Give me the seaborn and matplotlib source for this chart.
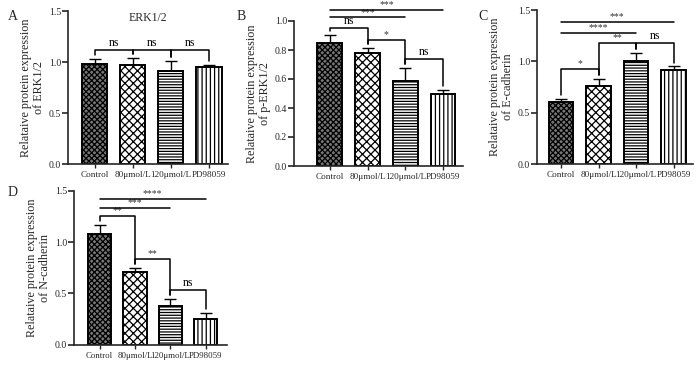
import matplotlib
matplotlib.use('Agg')
import matplotlib.pyplot as plt
import seaborn as sns
import pandas as pd
import numpy as np

groups = ['Control', '80μmol/L', '120μmol/L', 'PD98059']

erk_mean = [0.98, 0.97, 0.915, 0.948]
erk_sem = [0.05, 0.07, 0.095, 0.02]
perk_mean = [0.85, 0.782, 0.589, 0.499]
perk_sem = [0.053, 0.032, 0.087, 0.025]
ecad_mean = [0.60, 0.76, 1.006, 0.916]
ecad_sem = [0.036, 0.065, 0.078, 0.034]
ncad_mean = [1.075, 0.711, 0.38, 0.247]
ncad_sem = [0.088, 0.033, 0.065, 0.059]

# significance brackets: (i, j, height, label)
erk_brackets = [(0, 1, 1.12, 'ns'), (1, 2, 1.12, 'ns'), (2, 3, 1.12, 'ns')]
erk_lines = []
perk_brackets = [(0, 1, 0.952, 'ns'), (1, 2, 0.869, '*'), (2, 3, 0.738, 'ns')]
perk_lines = [(0, 2, 1.025, '***'), (0, 3, 1.078, '***')]
ecad_brackets = [(0, 1, 0.922, '*'), (1, 2, 1.18, '**'), (2, 3, 1.18, 'ns')]
ecad_lines = [(0, 2, 1.28, '****'), (0, 3, 1.38, '***')]
ncad_brackets = [(0, 1, 1.256, '**'), (1, 2, 0.837, '**'), (2, 3, 0.535, 'ns')]
ncad_lines = [(0, 2, 1.33, '***'), (0, 3, 1.416, '****')]

sns.set_theme(style='ticks')
plt.rcParams['font.family'] = ['Liberation Serif', 'DejaVu Serif']
plt.rcParams['hatch.linewidth'] = 0.9
plt.rcParams['axes.linewidth'] = 1.2

fig = plt.figure(figsize=(7.0, 3.67), dpi=100)

styles = [
    dict(face='#777777', hatch='xxxxxx'),
    dict(face='white', hatch='xxxx'),
    dict(face='white', hatch='------'),
    dict(face='white', hatch='||||'),
]

panels = [
    dict(rect=[68/700, (367-164)/367, 160/700, 153/367], mean=erk_mean, sem=erk_sem,
         ylim=1.5, yticks=[0.0, 0.5, 1.0, 1.5], xlim=(-0.7, 3.5), xfs=6.6,
         ylabel='Relataive protein expression\nof ERK1/2', br=erk_brackets, ln=erk_lines,
         title='ERK1/2', letter='A', lpos=(8, 17)),
    dict(rect=[294/700, (367-166)/367, 169/700, 145/367], mean=perk_mean, sem=perk_sem,
         ylim=1.0, yticks=[0.0, 0.2, 0.4, 0.6, 0.8, 1.0], xlim=(-0.95, 3.53), xfs=6.6,
         ylabel='Relataive protein expression\nof p-ERK1/2', br=perk_brackets, ln=perk_lines,
         title=None, letter='B', lpos=(237, 17)),
    dict(rect=[537/700, (367-164)/367, 156/700, 154/367], mean=ecad_mean, sem=ecad_sem,
         ylim=1.5, yticks=[0.0, 0.5, 1.0, 1.5], xlim=(-0.64, 3.52), xfs=6.6,
         ylabel='Relataive protein expression\nof E-cadherin', br=ecad_brackets, ln=ecad_lines,
         title=None, letter='C', lpos=(478, 17)),
    dict(rect=[74/700, (367-344.7)/367, 153/700, 154/367], mean=ncad_mean, sem=ncad_sem,
         ylim=1.5, yticks=[0.0, 0.5, 1.0, 1.5], xlim=(-0.72, 3.6), xfs=6.3,
         ylabel='Relataive protein expression\nof N-cadherin', br=ncad_brackets, ln=ncad_lines,
         title=None, letter='D', lpos=(8, 193)),
]

for p in panels:
    ax = fig.add_axes(p['rect'])
    df = pd.DataFrame({'group': groups, 'value': p['mean']})
    sns.barplot(data=df, x='group', y='value', ax=ax, errorbar=None, width=0.66,
                color='white', edgecolor='black', linewidth=1.4, zorder=2)
    for patch, st in zip(ax.patches, styles):
        patch.set_facecolor(st['face'])
        patch.set_hatch(st['hatch'])
        patch.set_edgecolor('black')
    x = np.arange(len(groups))
    ax.errorbar(x, p['mean'], yerr=[np.zeros(len(groups)), p['sem']], fmt='none',
                ecolor='black', elinewidth=1.0, capsize=4, capthick=1.0, zorder=1)
    ax.set_xlim(*p['xlim'])
    ax.set_ylim(0, p['ylim'])
    ax.set_yticks(p['yticks'])
    ax.set_yticklabels([f'{t:.1f}' for t in p['yticks']], fontsize=7)
    ax.set_xticks(x)
    ax.set_xticklabels(groups, fontsize=p['xfs'])
    ax.tick_params(axis='y', length=4, width=1.2, pad=1)
    ax.tick_params(axis='x', length=3, width=1.0, pad=2)
    ax.set_xlabel('')
    ax.set_ylabel(p['ylabel'], fontsize=8.7, labelpad=3, linespacing=1.1)
    sns.despine(ax=ax)
    gap = 0.025 * p['ylim']
    tops = np.array(p['mean']) + np.array(p['sem'])
    for (i, j, h, lab) in p['br']:
        ax.plot([i, i, j, j], [tops[i] + gap, h, h, tops[j] + gap], color='black',
                lw=1.1, clip_on=False, zorder=3)
        fs = 8.5 if lab == 'ns' else 7
        ax.text((i + j) / 2, h + 0.005 * p['ylim'], lab, ha='center', va='bottom',
                fontsize=fs, color='#333333' if lab != 'ns' else 'black', clip_on=False)
    for (i, j, h, lab) in p['ln']:
        ax.plot([i, j], [h, h], color='black', lw=1.1, clip_on=False, zorder=3)
        ax.text((i + j) / 2, h + 0.005 * p['ylim'], lab, ha='center', va='bottom',
                fontsize=7, color='#333333', clip_on=False)
    if p['title']:
        ax.text(0.5, 0.995, p['title'], transform=ax.transAxes, ha='center', va='top',
                fontsize=8.5)
    fig.text(p['lpos'][0] / 700, 1 - p['lpos'][1] / 367, p['letter'], fontsize=10,
             ha='left', va='center')

fig.savefig('out.png', dpi=100)
